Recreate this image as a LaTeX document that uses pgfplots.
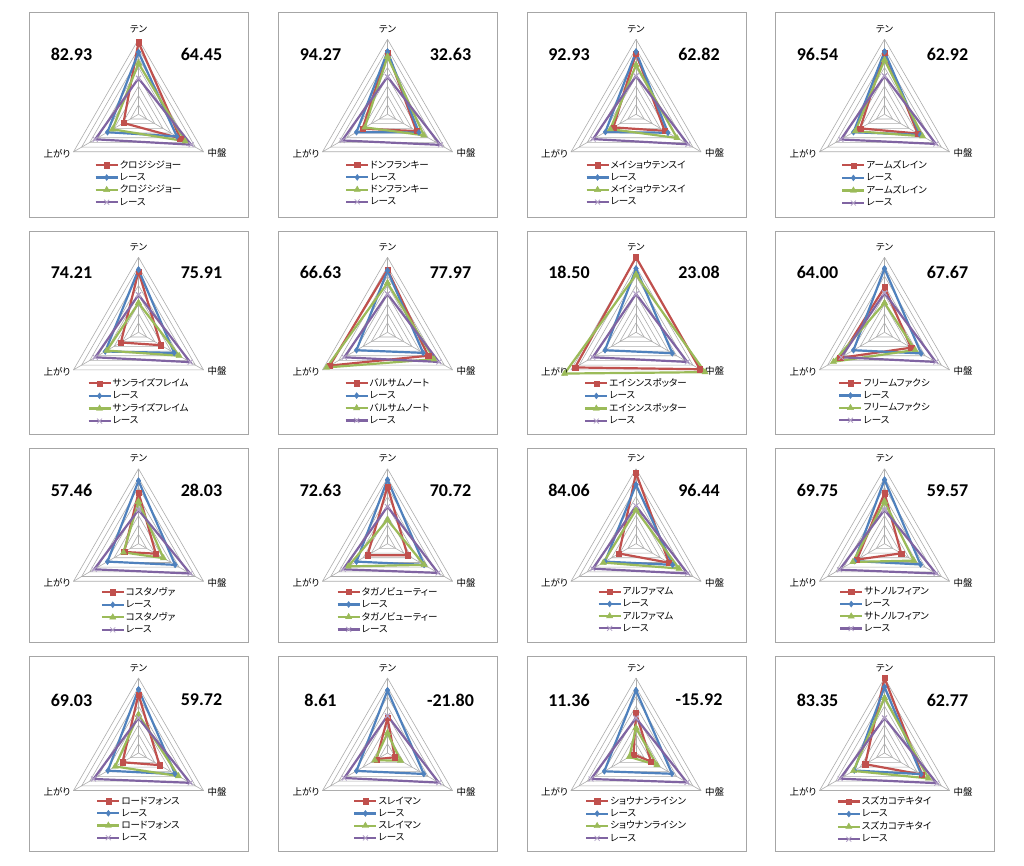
\documentclass[border=0pt]{standalone}
\usepackage{pgfplots}
\pgfplotsset{compat=1.18}
\usepackage{fontspec}
\setmainfont{Noto Sans CJK JP}[RawFeature=+palt]
\newfontfamily\numfont{Carlito}
\definecolor{xred}{HTML}{C0504D}
\definecolor{xblue}{HTML}{4F81BD}
\definecolor{xgreen}{HTML}{9BBB59}
\definecolor{xpurple}{HTML}{8064A2}
\definecolor{xlav}{HTML}{B3A2C7}
\definecolor{gridc}{HTML}{ADADAD}
\definecolor{boxc}{HTML}{A6A6A6}
\pgfplotsset{
 radar/.style={hide axis, clip=false, x=9.375pt, y=9.375pt,
   xmin=-8, xmax=8, ymin=-8, ymax=8, anchor=center,
   legend cell align=left,
   legend image code/.code={\draw[mark repeat=2,mark phase=2] plot coordinates {(0pt,0pt) (11pt,0pt) (22pt,0pt)};},
   legend style={draw=none, fill=none, anchor=north, at={(0.5,0.213)},
     font=\fontsize{9.5}{10}\selectfont, row sep=1.5pt,
     nodes={inner sep=1pt}},
 },
 low/.style={legend style={at={(0.5,0.23)}}},
 gridl/.style={gridc, line width=0.6pt, forget plot, mark=none, data cs=polar},
 sR/.style={xred, line width=2.2pt, data cs=polar, mark=square*, mark size=2.6pt, mark options={solid, line width=0.4pt, fill=xred}},
 sB/.style={xblue, line width=2.2pt, data cs=polar, mark=diamond*, mark size=3pt, mark options={solid, line width=0.4pt, fill=xblue}},
 sG/.style={xgreen, line width=2.2pt, data cs=polar, mark=triangle*, mark size=3.6pt, mark options={solid, line width=0.4pt, fill=xgreen}},
 sP/.style={xpurple, line width=2.2pt, data cs=polar, mark=x, mark size=3.5pt, mark options={solid, line width=0.8pt, draw=xlav}},
}
\tikzset{
 lab/.style={inner sep=0pt, font=\fontsize{9.5}{11}\selectfont},
 numst/.style={inner sep=0pt, font=\numfont\bfseries\fontsize{18}{20}\selectfont},
}
\newcommand\rgrid{%
 \pgfplotsinvokeforeach{1,...,8}{\addplot[gridl] coordinates {(90,##1) (-30,##1) (210,##1) (90,##1)};}%
 \addplot[gridl] coordinates {(90,0) (90,8)};
 \addplot[gridl] coordinates {(-30,0) (-30,8)};
 \addplot[gridl] coordinates {(210,0) (210,8)};
}
\newcommand\rlab[3]{%
 \node[lab] at (axis cs:0,8) [yshift=10pt] {テン};
 \node[lab, anchor=east] at (axis cs:-6.928,-4) [xshift=-3pt, yshift=-1.5pt] {上がり};
 \node[lab, anchor=west] at (axis cs:6.928,-4) [xshift=4pt, yshift=-1.5pt] {中盤};
 \node[numst] at (axis cs:0,0) [xshift=-67pt, yshift=#3pt] {#1};
 \node[numst] at (axis cs:0,0) [xshift=63pt, yshift=#3pt] {#2};
}
\newcommand\pbox[3]{\draw[boxc, line width=0.8pt] (#1pt,-#2pt) rectangle ({#1pt+219pt},-#3pt);}
\begin{document}
\begin{tikzpicture}
\fill[white] (0pt,0pt) rectangle (1024pt,-866pt);
\path[use as bounding box] (0pt,0pt) rectangle (1024pt,-866pt);
% ---------- row 1
\pbox{29}{12}{217}
\begin{axis}[radar, at={(138.5pt,-114.3pt)}]
\rgrid
\addplot[sR] coordinates {(90,7.68) (-30,5.13) (210,1.85) (90,7.68)};
\addplot[sB] coordinates {(90,6.61) (-30,4.72) (210,3.82) (90,6.61)};
\addplot[sG] coordinates {(90,5.44) (-30,5.74) (210,3.20) (90,5.44)};
\addplot[sP] coordinates {(90,3.84) (-30,6.48) (210,5.33) (90,3.84)};
\legend{クロジシジョー,レース,クロジシジョー,レース}
\rlab{82.93}{64.45}{60}
\end{axis}
\pbox{278}{12}{217}
\begin{axis}[radar, at={(387.5pt,-114.3pt)}]
\rgrid
\addplot[sR] coordinates {(90,6.61) (-30,3.57) (210,3.08) (90,6.61)};
\addplot[sB] coordinates {(90,6.68) (-30,3.86) (210,3.82) (90,6.68)};
\addplot[sG] coordinates {(90,6.15) (-30,4.47) (210,2.79) (90,6.15)};
\addplot[sP] coordinates {(90,4.00) (-30,6.52) (210,5.58) (90,4.00)};
\legend{ドンフランキー,レース,ドンフランキー,レース}
\rlab{94.27}{32.63}{60}
\end{axis}
\pbox{527}{12}{217}
\begin{axis}[radar, at={(636pt,-114.3pt)}]
\rgrid
\addplot[sR] coordinates {(90,6.50) (-30,3.53) (210,2.79) (90,6.50)};
\addplot[sB] coordinates {(90,6.68) (-30,3.94) (210,3.77) (90,6.68)};
\addplot[sG] coordinates {(90,5.26) (-30,5.05) (210,3.16) (90,5.26)};
\addplot[sP] coordinates {(90,4.09) (-30,6.40) (210,5.29) (90,4.09)};
\legend{メイショウテンスイ,レース,メイショウテンスイ,レース}
\rlab{92.93}{62.82}{60}
\end{axis}
\pbox{775}{12}{217}
\begin{axis}[radar, at={(884.5pt,-114.3pt)}]
\rgrid
\addplot[sR] coordinates {(90,6.58) (-30,4.10) (210,3.00) (90,6.58)};
\addplot[sB] coordinates {(90,6.68) (-30,4.39) (210,3.82) (90,6.68)};
\addplot[sG] coordinates {(90,5.80) (-30,4.68) (210,3.60) (90,5.80)};
\addplot[sP] coordinates {(90,4.09) (-30,6.32) (210,5.37) (90,4.09)};
\legend{アームズレイン,レース,アームズレイン,レース}
\rlab{96.54}{62.92}{60}
\end{axis}
% ---------- row 2
\pbox{29}{231}{434}
\begin{axis}[radar, at={(138.5pt,-332.3pt)}]
\rgrid
\addplot[sR] coordinates {(90,6.50) (-30,2.75) (210,2.17) (90,6.50)};
\addplot[sB] coordinates {(90,6.68) (-30,4.39) (210,4.10) (90,6.68)};
\addplot[sG] coordinates {(90,3.13) (-30,5.00) (210,3.90) (90,3.13)};
\addplot[sP] coordinates {(90,4.00) (-30,6.36) (210,5.33) (90,4.00)};
\legend{サンライズフレイム,レース,サンライズフレイム,レース}
\rlab{74.21}{75.91}{60}
\end{axis}
\pbox{278}{231}{434}
\begin{axis}[radar, at={(387.5pt,-332.3pt)}]
\rgrid
\addplot[sR] coordinates {(90,6.68) (-30,5.00) (210,7.10) (90,6.68)};
\addplot[sB] coordinates {(90,6.58) (-30,4.39) (210,3.82) (90,6.58)};
\addplot[sG] coordinates {(90,5.26) (-30,5.74) (210,7.50) (90,5.26)};
\addplot[sP] coordinates {(90,4.09) (-30,6.32) (210,5.33) (90,4.09)};
\legend{バルサムノート,レース,バルサムノート,レース}
\rlab{66.63}{77.97}{60}
\end{axis}
\pbox{527}{231}{434}
\begin{axis}[radar, at={(636pt,-332.3pt)}]
\rgrid
\addplot[sR] coordinates {(90,8.00) (-30,7.88) (210,7.50) (90,8.00)};
\addplot[sB] coordinates {(90,6.79) (-30,4.47) (210,3.82) (90,6.79)};
\addplot[sG] coordinates {(90,6.15) (-30,8.50) (210,8.80) (90,6.15)};
\addplot[sP] coordinates {(90,4.09) (-30,6.32) (210,5.33) (90,4.09)};
\legend{エイシンスポッター,レース,エイシンスポッター,レース}
\rlab{18.50}{23.08}{60}
\end{axis}
\pbox{775}{231}{434}
\begin{axis}[radar, at={(884.5pt,-332.3pt)}]
\rgrid
\addplot[sR] coordinates {(90,4.80) (-30,3.28) (210,5.46) (90,4.80)};
\addplot[sB] coordinates {(90,6.79) (-30,4.51) (210,3.82) (90,6.79)};
\addplot[sG] coordinates {(90,3.13) (-30,3.77) (210,6.28) (90,3.13)};
\addplot[sP] coordinates {(90,4.20) (-30,6.32) (210,5.33) (90,4.20)};
\legend{フリームファクシ,レース,フリームファクシ,レース}
\rlab{64.00}{67.67}{60}
\end{axis}
% ---------- row 3
\pbox{29}{448}{642}
\begin{axis}[radar, low, at={(138.5pt,-543.7pt)}]
\rgrid
\addplot[sR] coordinates {(90,5.46) (-30,2.13) (210,1.76) (90,5.46)};
\addplot[sB] coordinates {(90,6.71) (-30,4.51) (210,3.82) (90,6.71)};
\addplot[sG] coordinates {(90,4.50) (-30,3.08) (210,1.85) (90,4.50)};
\addplot[sP] coordinates {(90,3.60) (-30,6.36) (210,5.46) (90,3.60)};
\legend{コスタノヴァ,レース,コスタノヴァ,レース}
\rlab{57.46}{28.03}{53}
\end{axis}
\pbox{278}{448}{642}
\begin{axis}[radar, low, at={(387.5pt,-543.7pt)}]
\rgrid
\addplot[sR] coordinates {(90,6.10) (-30,2.46) (210,2.46) (90,6.10)};
\addplot[sB] coordinates {(90,6.82) (-30,4.51) (210,3.82) (90,6.82)};
\addplot[sG] coordinates {(90,2.54) (-30,4.51) (210,4.84) (90,2.54)};
\addplot[sP] coordinates {(90,3.96) (-30,6.23) (210,5.46) (90,3.96)};
\legend{タガノビューティー,レース,タガノビューティー,レース}
\rlab{72.63}{70.72}{53}
\end{axis}
\pbox{527}{448}{642}
\begin{axis}[radar, low, at={(636pt,-543.7pt)}]
\rgrid
\addplot[sR] coordinates {(90,7.54) (-30,4.06) (210,2.09) (90,7.54)};
\addplot[sB] coordinates {(90,6.29) (-30,4.51) (210,3.82) (90,6.29)};
\addplot[sG] coordinates {(90,3.60) (-30,5.30) (210,4.02) (90,3.60)};
\addplot[sP] coordinates {(90,4.04) (-30,6.36) (210,5.33) (90,4.04)};
\legend{アルファマム,レース,アルファマム,レース}
\rlab{84.06}{96.44}{53}
\end{axis}
\pbox{775}{448}{642}
\begin{axis}[radar, low, at={(884.5pt,-543.7pt)}]
\rgrid
\addplot[sR] coordinates {(90,5.39) (-30,2.05) (210,3.40) (90,5.39)};
\addplot[sB] coordinates {(90,6.82) (-30,4.43) (210,3.70) (90,6.82)};
\addplot[sG] coordinates {(90,4.50) (-30,3.60) (210,3.90) (90,4.50)};
\addplot[sP] coordinates {(90,3.60) (-30,6.36) (210,5.54) (90,3.60)};
\legend{サトノルフィアン,レース,サトノルフィアン,レース}
\rlab{69.75}{59.57}{53}
\end{axis}
% ---------- row 4
\pbox{29}{656}{851}
\begin{axis}[radar, low, at={(138.5pt,-753pt)}]
\rgrid
\addplot[sR] coordinates {(90,6.25) (-30,2.58) (210,1.97) (90,6.25)};
\addplot[sB] coordinates {(90,6.79) (-30,4.51) (210,3.77) (90,6.79)};
\addplot[sG] coordinates {(90,4.09) (-30,4.92) (210,2.87) (90,4.09)};
\addplot[sP] coordinates {(90,3.73) (-30,6.36) (210,5.54) (90,3.73)};
\legend{ロードフォンス,レース,ロードフォンス,レース}
\rlab{69.03}{59.72}{53}
\end{axis}
\pbox{278}{656}{851}
\begin{axis}[radar, low, at={(387.5pt,-753pt)}]
\rgrid
\addplot[sR] coordinates {(90,3.73) (-30,0.90) (210,1.35) (90,3.73)};
\addplot[sB] coordinates {(90,6.68) (-30,4.47) (210,3.82) (90,6.68)};
\addplot[sG] coordinates {(90,2.13) (-30,1.60) (210,1.56) (90,2.13)};
\addplot[sP] coordinates {(90,3.98) (-30,6.32) (210,5.33) (90,3.98)};
\legend{スレイマン,レース,スレイマン,レース}
\rlab{8.61}{-21.80}{53}
\end{axis}
\pbox{527}{656}{851}
\begin{axis}[radar, low, at={(636pt,-753pt)}]
\rgrid
\addplot[sR] coordinates {(90,4.27) (-30,1.85) (210,0.30) (90,4.27)};
\addplot[sB] coordinates {(90,6.68) (-30,4.43) (210,3.90) (90,6.68)};
\addplot[sG] coordinates {(90,2.67) (-30,2.58) (210,0.82) (90,2.67)};
\addplot[sP] coordinates {(90,3.73) (-30,6.28) (210,5.54) (90,3.73)};
\legend{ショウナンライシン,レース,ショウナンライシン,レース}
\rlab{11.36}{-15.92}{53}
\end{axis}
\pbox{775}{656}{851}
\begin{axis}[radar, low, at={(884.5pt,-753pt)}]
\rgrid
\addplot[sR] coordinates {(90,8.00) (-30,4.60) (210,2.38) (90,8.00)};
\addplot[sB] coordinates {(90,7.04) (-30,4.51) (210,3.73) (90,7.04)};
\addplot[sG] coordinates {(90,5.87) (-30,5.42) (210,3.82) (90,5.87)};
\addplot[sP] coordinates {(90,3.73) (-30,6.44) (210,5.46) (90,3.73)};
\legend{スズカコテキタイ,レース,スズカコテキタイ,レース}
\rlab{83.35}{62.77}{53}
\end{axis}
\end{tikzpicture}
\end{document}
